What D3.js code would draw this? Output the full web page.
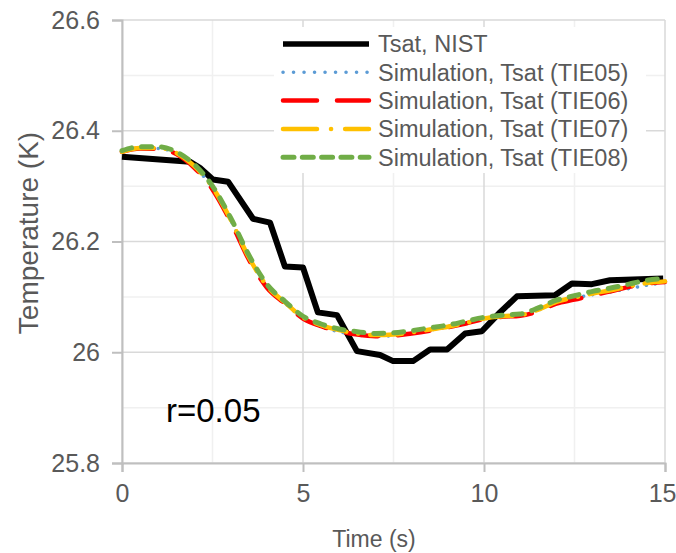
<!DOCTYPE html>
<html>
<head>
<meta charset="utf-8">
<script src="https://cdn.jsdelivr.net/npm/d3@7"></script>
<style>
  body { margin: 0; background: #fff; }
  text { font-family: "Liberation Sans", Arial, sans-serif; }
</style>
</head>
<body>
<div class="chart"></div>
<script>
// data
var nistTime = [0, 1.88, 2.15, 2.51, 2.93, 3.62, 4.09, 4.5, 5.0, 5.41, 5.94, 6.49, 7.13, 7.49, 8.04, 8.51, 8.98, 9.48, 9.94, 10.44, 10.91, 11.96, 12.43, 12.98, 13.48, 14.95];
var nistTemp = [26.353, 26.344, 26.333, 26.312, 26.308, 26.241, 26.234, 26.155, 26.153, 26.072, 26.067, 26.002, 25.995, 25.984, 25.984, 26.005, 26.005, 26.034, 26.038, 26.072, 26.101, 26.103, 26.124, 26.123, 26.130, 26.133];

var simTime = [0, 0.5, 1, 1.5, 2, 2.5, 3, 3.5, 4, 4.5, 5, 5.5, 6, 6.5, 7, 7.5, 8, 8.5, 9, 9.5, 10, 10.5, 11, 11.5, 12, 12.5, 13, 13.5, 14, 14.5, 15];
var tie05 = [26.363, 26.368, 26.368, 26.359, 26.335, 26.297, 26.239, 26.171, 26.119, 26.089, 26.062, 26.046, 26.037, 26.031, 26.029, 26.030, 26.034, 26.040, 26.045, 26.052, 26.060, 26.064, 26.066, 26.076, 26.090, 26.098, 26.104, 26.109, 26.115, 26.121, 26.126];
var tie06 = [26.362, 26.368, 26.367, 26.358, 26.333, 26.294, 26.236, 26.168, 26.117, 26.088, 26.061, 26.047, 26.038, 26.032, 26.029, 26.030, 26.034, 26.039, 26.045, 26.052, 26.060, 26.064, 26.066, 26.074, 26.088, 26.095, 26.103, 26.110, 26.118, 26.124, 26.127];
var tie07 = [26.362, 26.369, 26.369, 26.360, 26.336, 26.298, 26.240, 26.172, 26.120, 26.090, 26.063, 26.049, 26.040, 26.034, 26.031, 26.032, 26.036, 26.041, 26.046, 26.053, 26.061, 26.065, 26.067, 26.077, 26.091, 26.099, 26.106, 26.112, 26.119, 26.125, 26.128];
var tie08 = [26.364, 26.371, 26.371, 26.362, 26.339, 26.300, 26.243, 26.176, 26.123, 26.092, 26.065, 26.051, 26.042, 26.037, 26.034, 26.035, 26.039, 26.044, 26.049, 26.056, 26.063, 26.067, 26.069, 26.080, 26.094, 26.102, 26.110, 26.116, 26.123, 26.130, 26.133];

var xTicks = [0, 5, 10, 15];
var yTicks = [25.8, 26, 26.2, 26.4, 26.6];
var xMinor = [2.5, 7.5, 12.5];
var yMinor = [25.9, 26.1, 26.3, 26.5];

var legendNames = ["Tsat, NIST", "Simulation, Tsat (TIE05)", "Simulation, Tsat (TIE06)", "Simulation, Tsat (TIE07)", "Simulation, Tsat (TIE08)"];

var svgWidth = 676;
var svgHeight = 553;
var margin = { top: 20, right: 11, bottom: 90, left: 122 };
var width = svgWidth - margin.left - margin.right;
var height = svgHeight - margin.top - margin.bottom;

var svg = d3.select(".chart")
  .append("svg")
  .attr("width", svgWidth)
  .attr("height", svgHeight);

var chartGroup = svg.append("g")
  .attr("transform", `translate(${margin.left}, ${margin.top})`);

var xScale = d3.scaleLinear().domain([0, 15]).range([0, width]);
var yScale = d3.scaleLinear().domain([25.8, 26.6]).range([height, 0]);

// minor gridlines
chartGroup.selectAll(".xminor").data(xMinor).enter().append("line")
  .attr("x1", d => xScale(d)).attr("x2", d => xScale(d))
  .attr("y1", 0).attr("y2", height)
  .attr("stroke", "#f0f0f0").attr("stroke-width", 1.5);
chartGroup.selectAll(".yminor").data(yMinor).enter().append("line")
  .attr("x1", 0).attr("x2", width)
  .attr("y1", d => yScale(d)).attr("y2", d => yScale(d))
  .attr("stroke", "#f0f0f0").attr("stroke-width", 1.5);

// major gridlines
chartGroup.selectAll(".xmajor").data(xTicks).enter().append("line")
  .attr("x1", d => xScale(d)).attr("x2", d => xScale(d))
  .attr("y1", 0).attr("y2", height)
  .attr("stroke", "#d9d9d9").attr("stroke-width", 1.5);
chartGroup.selectAll(".ymajor").data(yTicks).enter().append("line")
  .attr("x1", 0).attr("x2", width)
  .attr("y1", d => yScale(d)).attr("y2", d => yScale(d))
  .attr("stroke", "#d9d9d9").attr("stroke-width", 1.5);

// axes
var xAxis = d3.axisBottom(xScale).tickValues(xTicks).tickSize(9).tickPadding(6).tickFormat(d3.format("d"));
var yAxis = d3.axisLeft(yScale).tickValues(yTicks).tickSize(10).tickPadding(12).tickFormat(d => d === 26 ? "26" : d3.format(".1f")(d));

var gx = chartGroup.append("g")
  .attr("transform", `translate(0, ${height})`)
  .call(xAxis);
var gy = chartGroup.append("g").call(yAxis);

[gx, gy].forEach(function(g) {
  g.select(".domain").attr("stroke", "#bfbfbf").attr("stroke-width", 2);
  g.selectAll(".tick line").attr("stroke", "#bfbfbf").attr("stroke-width", 2);
  g.selectAll(".tick text")
    .attr("fill", "#595959")
    .attr("font-size", "25px")
    .attr("font-family", "Liberation Sans, Arial, sans-serif");
});
gx.selectAll(".tick text").attr("dy", "0.95em");
// last x label is pulled in so it stays on the page, like Excel does
gx.selectAll(".tick text")
  .filter(d => d === 15)
  .attr("text-anchor", "end")
  .attr("x", 11);

// axis titles
svg.append("text")
  .attr("x", 374)
  .attr("y", 547)
  .attr("text-anchor", "middle")
  .attr("fill", "#595959")
  .attr("font-size", "23px")
  .text("Time (s)");

svg.append("text")
  .attr("transform", "translate(38, 233) rotate(-90)")
  .attr("text-anchor", "middle")
  .attr("fill", "#595959")
  .attr("font-size", "28px")
  .text("Temperature (K)");

// series
var line = d3.line()
  .x(d => xScale(d[0]))
  .y(d => yScale(d[1]));
var smooth = d3.line()
  .curve(d3.curveMonotoneX)
  .x(d => xScale(d[0]))
  .y(d => yScale(d[1]));

chartGroup.append("path")
  .datum(d3.zip(nistTime, nistTemp))
  .attr("d", line)
  .attr("fill", "none")
  .attr("stroke", "#000")
  .attr("stroke-width", 6)
  .attr("stroke-linejoin", "round");

var simStyles = [
  { values: tie05, color: "#5b9bd5", width: 3.5, dash: "0.1 9" },
  { values: tie06, color: "#ff0000", width: 4.5, dash: "32 20" },
  { values: tie07, color: "#ffc000", width: 4.5, dash: "32 12 0.1 12" },
  { values: tie08, color: "#70ad47", width: 5, dash: "10 10" }
];

simStyles.forEach(function(s) {
  chartGroup.append("path")
    .datum(d3.zip(simTime, s.values))
    .attr("d", smooth)
    .attr("fill", "none")
    .attr("stroke", s.color)
    .attr("stroke-width", s.width)
    .attr("stroke-dasharray", s.dash)
    .attr("stroke-linecap", "round");
});

// annotation
svg.append("text")
  .attr("x", 166)
  .attr("y", 422)
  .attr("fill", "#000")
  .attr("font-size", "33px")
  .text("r=0.05");

// legend
var legend = svg.append("g");
legend.append("rect")
  .attr("x", 274).attr("y", 27)
  .attr("width", 372).attr("height", 146)
  .attr("fill", "#fff");

var legendStyles = [
  { color: "#000", width: 5.5, dash: null, cap: "butt" },
  { color: "#5b9bd5", width: 3.5, dash: "0.1 10.4", cap: "round" },
  { color: "#ff0000", width: 4.5, dash: "34 20", cap: "round" },
  { color: "#ffc000", width: 4.5, dash: "34 14 0.1 14", cap: "round" },
  { color: "#70ad47", width: 5, dash: "11 8.3", cap: "round" }
];

var rows = legend.selectAll(".row")
  .data(legendNames)
  .enter()
  .append("g")
  .attr("transform", (d, i) => `translate(0, ${44 + i * 28.3})`);

rows.append("line")
  .attr("x1", 283).attr("x2", 369)
  .attr("y1", 0).attr("y2", 0)
  .attr("stroke", (d, i) => legendStyles[i].color)
  .attr("stroke-width", (d, i) => legendStyles[i].width)
  .attr("stroke-dasharray", (d, i) => legendStyles[i].dash)
  .attr("stroke-linecap", (d, i) => legendStyles[i].cap);

rows.append("text")
  .attr("x", 378)
  .attr("y", 0)
  .attr("dy", "0.36em")
  .attr("fill", "#595959")
  .attr("font-size", "23.5px")
  .text(d => d);
</script>
</body>
</html>
